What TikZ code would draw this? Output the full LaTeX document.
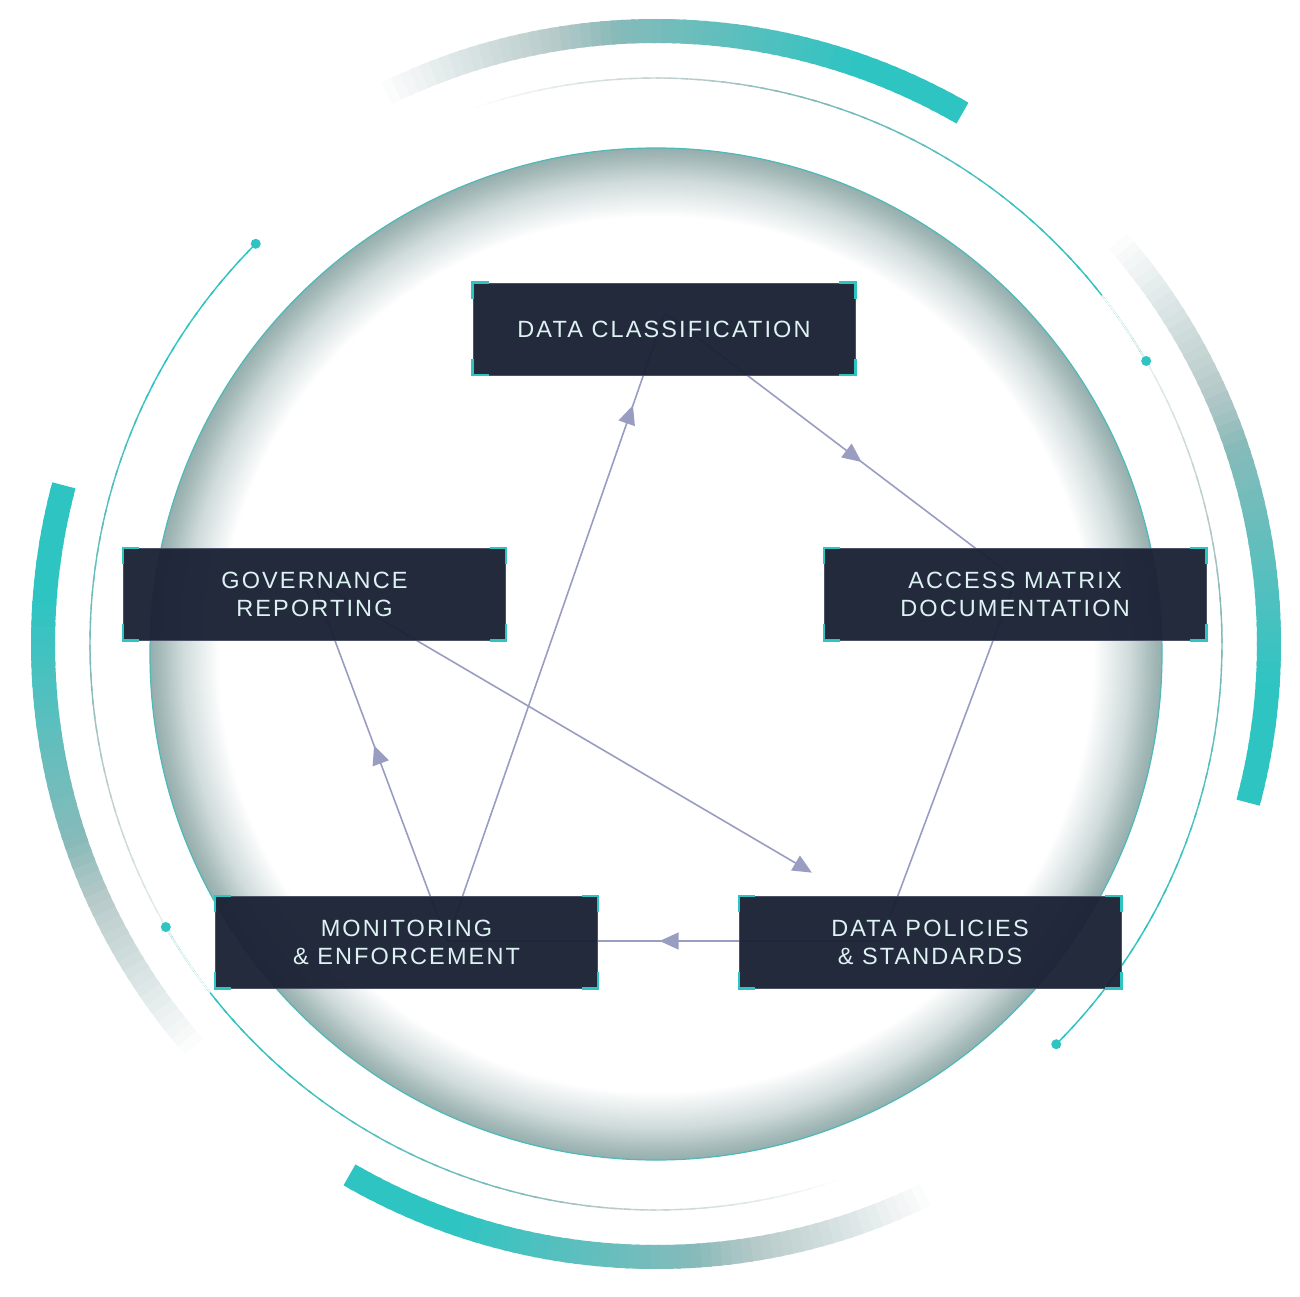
\documentclass[tikz,border=0pt]{standalone}
\usepackage{fontspec}
\usepackage{tikz}
\usetikzlibrary{arrows.meta,calc,decorations.markings,backgrounds}
\newfontfamily\boxfont[LetterSpace=9]{Liberation Sans}
\definecolor{tealc}{HTML}{2EC4C2}
\definecolor{greyc}{HTML}{9DB8B7}
\definecolor{rimc}{HTML}{95AEAD}
\definecolor{rimline}{HTML}{4DBAB7}
\definecolor{boxc}{HTML}{1B2235}
\definecolor{edgec}{HTML}{4B5266}
\definecolor{linec}{HTML}{9A9DC2}
\definecolor{textc}{HTML}{DDF2F2}
\pgfdeclareradialshading{lens}{\pgfpoint{0bp}{0bp}}{color(0bp)=(white); color(21.6bp)=(white);
  color(23.4bp)=(rimc!45!white); color(24.5bp)=(rimc!85!white); color(25bp)=(rimc); color(50bp)=(rimc)}
\pgfdeclarelayer{links}
\pgfsetlayers{background,links,main}
\tikzset{
  box/.style={rectangle,fill=boxc,fill opacity=0.96,text opacity=1,draw=edgec,line width=0.8pt,
    minimum width=382pt,minimum height=92pt,align=center,text=textc,
    font=\boxfont\fontsize{23.5}{28}\selectfont},
  corner/.style={draw=tealc,line width=2.2pt},
  flow/.style={color=linec,line width=1.6pt},
  tipat/.style={postaction={decorate},decoration={markings,
    mark=at position #1 with {\arrow{Triangle[length=19pt,width=17pt]}}}},
  ring/.style={line width=24pt},
  hair/.style={line width=1.4pt},
  dot/.style={circle,fill=tealc,inner sep=0pt,minimum size=10pt}
}

\begin{document}
\begin{tikzpicture}[x=1pt,y=1pt]
  \useasboundingbox (-656,-642) rectangle (644,654);
  \begin{scope}[on background layer]
  % outer rings, pale end -> teal end
  \foreach \sa/\ea/\rr/\st in {117/60/613/ring,42/-15/613/ring,297/240/613/ring,222/165/613/ring,
      110/30/566/hair,38/-45/566/hair,290/210/566/hair,218/135/566/hair}{
    \foreach \i in {0,...,59}{
      \pgfmathsetmacro\aa{\sa+(\ea-\sa)*\i/60}
      \pgfmathsetmacro\ab{\sa+(\ea-\sa)*min(\i+1.4,60)/60}
      \pgfmathsetmacro\pw{min(100,\i*100/24)}
      \pgfmathsetmacro\pt{min(100,max(0,(\i-18)*100/30))}
      \draw[\st,draw=tealc!\pt!greyc!\pw!white] ([shift={(0,10)}]\aa:\rr) arc[start angle=\aa,end angle=\ab,radius=\rr];
    }
  }
  \foreach \a/\n in {30/dotne,-45/dotse,210/dotsw,135/dotnw}{\node[dot] (\n) at ([shift={(0,10)}]\a:566) {};}
  % lens
  \shade[shading=lens] (0,0) circle (506);
  \draw[rimline,line width=1.2pt] (0,0) circle (506);
  \end{scope}
  % steps
  \node[box] (dc) at (8,325)       {DATA CLASSIFICATION};
  \node[box] (gr) at (-341.5,60)   {GOVERNANCE\\REPORTING};
  \node[box] (am) at (359,60)      {ACCESS MATRIX\\DOCUMENTATION};
  \node[box] (me) at (-249.5,-288) {MONITORING\\\& ENFORCEMENT};
  \node[box] (dp) at (274,-288)    {DATA POLICIES\\\& STANDARDS};
  \foreach \n in {dc,gr,am,me,dp}{
    \draw[corner] ([yshift=-16pt]\n.north west) |- ([xshift=16pt]\n.north west);
    \draw[corner] ([xshift=-16pt]\n.north east) -| ([yshift=-16pt]\n.north east);
    \draw[corner] ([yshift=16pt]\n.south west) |- ([xshift=16pt]\n.south west);
    \draw[corner] ([xshift=-16pt]\n.south east) -| ([yshift=16pt]\n.south east);
  }
  % links behind the boxes
  \begin{pgfonlayer}{links}
  \draw[flow,tipat=0.56] ([shift={(1,16)}]dc.center) -- ([shift={(1,15)}]am.center);
  \draw[flow] ([shift={(1,15)}]am.center) -- ([shift={(-49,1)}]dp.center);
  \draw[flow,tipat=0.51] ([shift={(-49,1)}]dp.center) -- ([shift={(40.5,1)}]me.center);
  \draw[flow,tipat=0.54] ([shift={(40.5,1)}]me.center) -- ([shift={(-2.5,15)}]gr.center);
  \draw[flow,tipat=0.853] ([shift={(40.5,1)}]me.center) -- ([shift={(1,16)}]dc.center);
  \draw[flow,-{Triangle[length=19pt,width=17pt]},shorten >=137pt] ([shift={(-2.5,15)}]gr.center) -- (dp.center);
  \end{pgfonlayer}
\end{tikzpicture}
\end{document}
